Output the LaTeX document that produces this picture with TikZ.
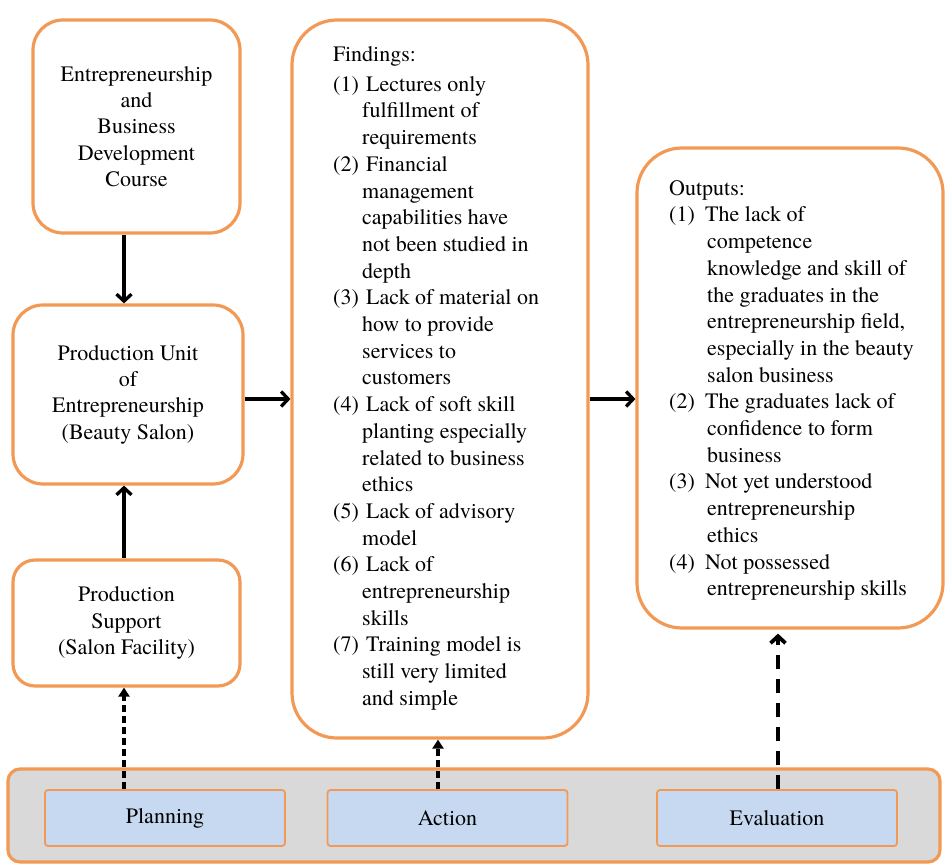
\documentclass[tikz,border=0pt]{standalone}
\usepackage{fontspec}
\setmainfont{TeX Gyre Termes}
\usetikzlibrary{arrows.meta}
\definecolor{orng}{HTML}{F29A55}
\definecolor{barg}{HTML}{D9D9D9}
\definecolor{lblue}{HTML}{C6D9F1}
\newcommand\fitem[2]{\makebox[33pt][l]{#1}#2}
\newcommand\fcont[1]{\hspace*{29pt}#1}
\newcommand\oitem[2]{\makebox[36pt][l]{#1}#2}
\newcommand\ocont[1]{\hspace*{38pt}#1}
\tikzset{
  box/.style={draw=orng, line width=3.2pt, rounded corners=30pt, fill=white, inner sep=0pt,
    align=center, font=\fontsize{22}{26.4}\selectfont},
  txt/.style={inner sep=0pt, align=left, anchor=north west, font=\fontsize{22}{26.7}\selectfont},
  phase/.style={draw=orng, line width=1.8pt, fill=lblue, rounded corners=3pt, inner sep=0pt,
    minimum width=240pt, minimum height=56pt, font=\fontsize{22}{26}\selectfont},
  solidarr/.style={line width=3.3pt, -{Straight Barb[length=7pt,width=15pt]}},
  dasharr/.style={line width=3.3pt, dash pattern=on 7pt off 4pt, -{Triangle[length=9pt,width=11pt]}},
  dasharrb/.style={line width=3.8pt, dash pattern=on 14pt off 10pt, shorten >=4pt, -{Straight Barb[length=7pt,width=15pt]}}
}
\begin{document}
\begin{tikzpicture}[x=1pt,y=-1pt]
\useasboundingbox (0,0) rectangle (945,866);
% bottom bar
\node[draw=orng, line width=3.2pt, fill=barg, rounded corners=12pt, inner sep=0pt,
  minimum width=932pt, minimum height=93pt] (bar) at (474,815.5) {};
\node[phase] (pl) at (165,818) {Planning};
\node[phase] (ac) at (447.5,818) {Action};
\node[phase] (ev) at (777,818) {Evaluation};
% left column
\node[box, minimum width=207pt, minimum height=213pt] (b1) at (136.5,126.5)
  {Entrepreneurship\\and\\Business\\Development\\Course};
\node[box, minimum width=230pt, minimum height=179pt] (b2) at (128,394.5)
  {Production Unit\\of\\Entrepreneurship\\(Beauty Salon)};
\node[box, rounded corners=22pt, minimum width=227pt, minimum height=126pt] (b3) at (126.5,623)
  {Production\\Support\\(Salon Facility)};
% findings
\node[box, rounded corners=45pt, minimum width=296pt, minimum height=718pt] (fb) at (440,379) {};
\node[txt] (ft) at (333,42.4) {\strut Findings:\\[3.3pt]
\fitem{(1)}{Lectures only}\\
\fcont{fulfillment of}\\
\fcont{requirements}\\
\fitem{(2)}{Financial}\\
\fcont{management}\\
\fcont{capabilities have}\\
\fcont{not been studied in}\\
\fcont{depth}\\
\fitem{(3)}{Lack of material on}\\
\fcont{how to provide}\\
\fcont{services to}\\
\fcont{customers}\\
\fitem{(4)}{Lack of soft skill}\\
\fcont{planting especially}\\
\fcont{related to business}\\
\fcont{ethics}\\
\fitem{(5)}{Lack of advisory}\\
\fcont{model}\\
\fitem{(6)}{Lack of}\\
\fcont{entrepreneurship}\\
\fcont{skills}\\
\fitem{(7)}{Training model is}\\
\fcont{still very limited}\\
\fcont{and simple}};
% outputs
\node[box, rounded corners=45pt, minimum width=306pt, minimum height=480pt] (ob) at (790,388) {};
\node[txt] (ot) at (669,176.4) {\strut Outputs:\\
\oitem{(1)}{The lack of}\\
\ocont{competence}\\
\ocont{knowledge and skill of}\\
\ocont{the graduates in the}\\
\ocont{entrepreneurship field,}\\
\ocont{especially in the beauty}\\
\ocont{salon business}\\
\oitem{(2)}{The graduates lack of}\\
\ocont{confidence to form}\\
\ocont{business}\\
\oitem{(3)}{Not yet understood}\\
\ocont{entrepreneurship}\\
\ocont{ethics}\\
\oitem{(4)}{Not possessed}\\
\ocont{entrepreneurship skills}};
% connectors
\coordinate (xa) at (124,0);
\coordinate (xb) at (438,0);
\coordinate (xc) at (778,0);
\coordinate (ya) at (0,399);
\draw[solidarr] (b1.south -| xa) -- (b2.north -| xa);
\draw[solidarr] (b3.north -| xa) -- (b2.south -| xa);
\draw[solidarr] (b2.east |- ya) -- (fb.west |- ya);
\draw[solidarr] (fb.east |- ya) -- (ob.west |- ya);
\draw[dasharr] (pl.north -| xa) -- (b3.south -| xa);
\draw[dasharr] (ac.north -| xb) -- (fb.south -| xb);
\draw[dasharrb] (ev.north -| xc) -- (ob.south -| xc);
\end{tikzpicture}
\end{document}
